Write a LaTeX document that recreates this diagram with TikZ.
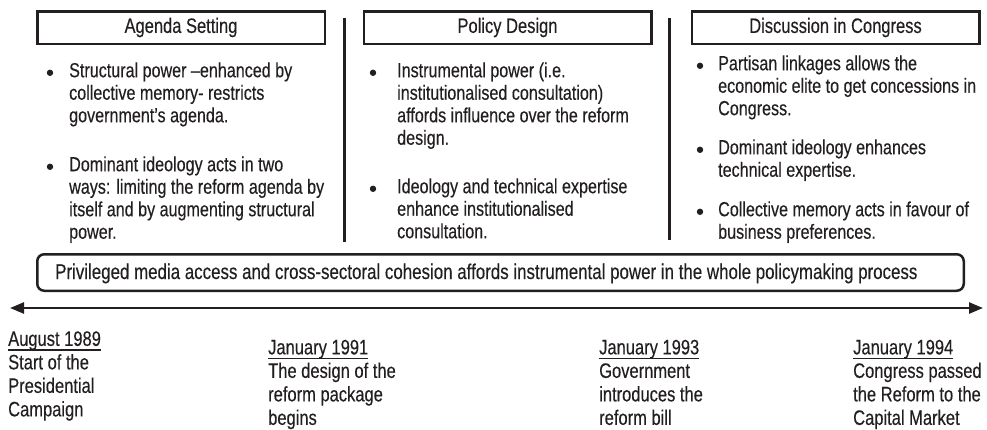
\documentclass[tikz,border=0pt]{standalone}
\usepackage{fontspec}
\setmainfont{Liberation Sans}[FakeStretch=0.79,FakeBold=0.3]
\usetikzlibrary{arrows.meta}
\definecolor{ink}{HTML}{231F20}
\newcommand\dateul[1]{\setbox0\hbox{#1}\rlap{\color{ink}\rule[-4.8pt]{\wd0}{1.3pt}}\box0}
\begin{document}
\begin{tikzpicture}[x=1pt,y=-1pt,
  basefont/.style={font=\fontsize{20.4}{22.5}\selectfont},
  txt/.style={basefont, text=ink, inner sep=0pt, anchor=north west, align=left, execute at begin node=\strut},
  tltxt/.style={font=\fontsize{20.9}{23.5}\selectfont, text=ink, inner sep=0pt, anchor=north west, align=left, execute at begin node=\strut},
  ttl/.style={font=\fontsize{20.9}{22}\selectfont, draw=ink, line width=2.5pt, minimum width=287.5pt, minimum height=32.5pt, text=ink, inner sep=0pt},
  sep/.style={draw=ink, line width=3pt},
  dot/.style={fill=ink},
  mediabox/.style={draw=ink, line width=2.5pt, rounded corners=7pt, minimum width=926.5pt, minimum height=36.5pt, inner sep=0pt},
  mediatxt/.style={font=\fontsize{21.4}{22}\selectfont, text=ink, inner sep=0pt, anchor=base west},
  timeline/.style={draw=ink, line width=2.5pt, {Triangle[length=14pt,width=11pt]}-{Triangle[length=14pt,width=11pt]}}
]
\useasboundingbox (0,0) rectangle (987,429);

% title boxes
\node[ttl] (t1) at (181,27.5) {Agenda Setting};
\node[ttl] (t2) at (507.5,27.5) {Policy Design};
\node[ttl] (t3) at (835.5,27.5) {Discussion in Congress};

% separators
\coordinate (s1a) at (344,18); \coordinate (s1b) at (344,242);
\coordinate (s2a) at (669,18); \coordinate (s2b) at (669,240);
\draw[sep] (s1a) -- (s1b);
\draw[sep] (s2a) -- (s2b);

% Agenda setting bullets
\fill[dot] (50,72.8) circle (3.2);
\node[txt] (a1) at (69,62.25) {Structural power –enhanced by\\collective memory- restricts\\government’s agenda.};
\fill[dot] (50,166.8) circle (3.2);
\node[txt] (a2) at (69,156.25) {Dominant ideology acts in two\\ways: limiting the reform agenda by\\itself and by augmenting structural\\power.};

% Policy design bullets
\fill[dot] (373,72.8) circle (3.2);
\node[txt] (p1) at (397,62.25) {Instrumental power (i.e.\\institutionalised consultation)\\affords influence over the reform\\design.};
\fill[dot] (373,188.8) circle (3.2);
\node[txt] (p2) at (397,178.25) {Ideology and technical expertise\\enhance institutionalised\\consultation.};

% Congress bullets
\fill[dot] (700,65.8) circle (3.2);
\node[txt] (c1) at (718,55.25) {Partisan linkages allows the\\economic elite to get concessions in\\Congress.};
\fill[dot] (700,149.8) circle (3.2);
\node[txt] (c2) at (718,139.25) {Dominant ideology enhances\\technical expertise.};
\fill[dot] (700,211.8) circle (3.2);
\node[txt] (c3) at (718,201.25) {Collective memory acts in favour of\\business preferences.};

% media box
\node[mediabox] (m) at (500.5,272.5) {};
\node[mediatxt] (mt) at (55,279) {Privileged media access and cross-sectoral cohesion affords instrumental power in the whole policymaking process};

% timeline
\coordinate (tl) at (10,308);
\coordinate (tr) at (983,308);
\draw[timeline] (tl) -- (tr);

% dates
\node[tltxt] (d1) at (8,331.05) {\dateul{August 1989}\\Start of the\\Presidential\\Campaign};
\node[tltxt] (d2) at (268,339.55) {\dateul{January 1991}\\The design of the\\reform package\\begins};
\node[tltxt] (d3) at (599,339.55) {\dateul{January 1993}\\Government\\introduces the\\reform bill};
\node[tltxt] (d4) at (853,339.55) {\dateul{January 1994}\\Congress passed\\the Reform to the\\Capital Market};
\end{tikzpicture}
\end{document}
